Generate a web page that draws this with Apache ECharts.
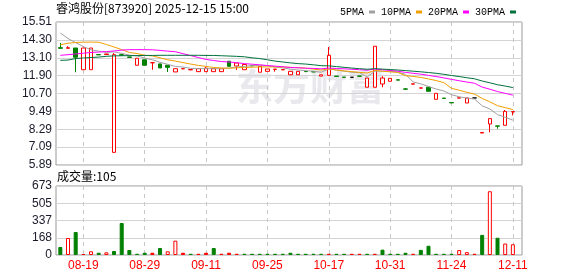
<!DOCTYPE html>
<html><head><meta charset="utf-8">
<script src="https://cdn.jsdelivr.net/npm/echarts@6/dist/echarts.min.js"></script>
<style>html,body{margin:0;padding:0;background:#fff}#c{width:578px;height:276px}</style>
</head><body><div id="c"></div>
<script>
const stockName = '睿鸿股份[873920]';
const stamp = '2025-12-15 15:00';
const dateLabels = ['08-19','08-29','09-11','09-25','10-17','10-31','11-24','12-11'];
const dateLabelFirst = 3, dateLabelStep = 8;
const priceTicks = ['5.89','7.09','8.29','9.49','10.70','11.90','13.10','14.30','15.51'];
const volTicks = ['0','168','337','505','673'];
const maNames = ['5PMA','10PMA','20PMA','30PMA'];

const opens = [13.78,13.74,13.76,12.30,12.30,13.32,13.32,6.74,13.31,13.16,
12.60,12.97,12.77,12.69,12.60,12.15,12.36,12.29,12.17,12.17,
12.17,12.17,12.87,12.55,12.30,12.58,12.13,12.19,12.32,12.29,
11.96,11.96,12.18,12.17,11.87,11.92,11.87,11.80,11.79,11.88,
11.12,11.12,11.34,11.52,11.62,11.01,11.33,11.06,11.12,10.31,
10.39,10.09,10.39,10.06,10.40,8.04,8.65,8.52,8.56,9.46];
const closes = [13.74,13.78,13.14,13.76,13.76,13.30,13.36,13.31,13.28,13.13,
13.07,12.60,12.77,12.42,12.46,12.37,12.37,12.31,12.37,12.41,
12.37,12.37,12.53,12.75,12.65,12.56,12.53,12.35,12.34,12.31,
12.19,12.19,12.17,12.15,11.96,13.27,11.85,11.79,11.79,11.86,
11.74,13.88,11.74,11.72,11.60,10.99,11.35,11.08,10.85,10.71,
10.37,10.07,10.41,10.40,10.40,8.08,9.01,8.50,9.50,9.48];
const lows = [13.74,13.74,12.13,12.30,12.30,13.30,13.32,6.74,13.28,13.13,
12.60,12.60,12.30,12.42,12.15,12.15,12.36,12.29,12.17,12.17,
12.17,12.17,12.53,12.28,12.30,12.56,12.13,12.19,12.17,12.29,
11.96,11.96,12.17,12.15,11.87,11.92,11.85,11.79,11.79,11.86,
11.12,11.12,11.12,11.52,11.60,10.99,11.33,11.06,10.85,10.31,
10.37,10.07,10.39,10.06,10.40,8.04,8.09,8.33,8.56,9.23];
const highs = [14.10,13.88,13.76,13.76,13.76,13.32,13.36,13.42,13.36,13.16,
13.07,12.97,12.77,12.69,12.60,12.37,12.37,12.31,12.37,12.47,
12.37,12.37,12.87,12.75,12.65,12.58,12.53,12.35,12.34,12.31,
12.19,12.19,12.18,12.17,11.96,13.83,11.87,11.80,11.79,11.88,
11.74,13.88,11.86,11.72,11.62,11.07,11.35,11.08,11.12,10.71,
10.39,10.09,10.41,10.40,10.40,8.08,9.01,8.52,9.59,9.48];
const volumes = [78,166,224,10,36,22,26,39,312,49,
12,22,22,68,36,140,22,12,12,22,
68,12,22,12,12,12,12,12,12,12,
22,12,12,12,12,12,12,12,12,12,
12,12,52,12,12,22,12,50,90,12,
12,12,48,28,12,196,622,168,112,105];
// 1 = up (hollow red), 0 = flat/up close (filled red), -1 = down (green)
const volDir = [-1,1,-1,0,1,-1,1,-1,-1,-1,
-1,-1,0,-1,1,1,0,-1,0,0,
-1,0,0,0,-1,-1,-1,-1,-1,-1,
-1,-1,-1,-1,-1,0,-1,-1,0,0,
-1,0,-1,-1,-1,-1,0,-1,-1,-1,
-1,-1,1,1,0,-1,1,-1,1,1];
const ma5 = [14.77,14.40,14.12,13.86,13.64,13.55,13.46,13.50,13.40,13.28,
13.23,13.08,12.97,12.80,12.66,12.52,12.48,12.39,12.38,12.37,
12.37,12.37,12.41,12.49,12.53,12.57,12.60,12.57,12.49,12.42,
12.34,12.28,12.24,12.20,12.13,12.35,12.28,12.20,12.13,12.11,
11.81,12.21,12.20,12.19,12.14,11.99,11.48,11.35,11.17,11.00,
10.87,10.62,10.48,10.39,10.33,9.87,9.66,9.28,9.10,8.91];
const ma10 = [13.98,14.08,14.13,14.15,14.16,14.15,14.00,13.83,13.65,13.46,
13.39,13.27,13.23,13.10,12.97,12.88,12.78,12.68,12.59,12.52,
12.45,12.42,12.40,12.43,12.45,12.47,12.49,12.49,12.49,12.48,
12.46,12.44,12.40,12.34,12.28,12.35,12.28,12.22,12.17,12.12,
12.08,12.25,12.20,12.16,12.12,11.90,11.85,11.78,11.68,11.57,
11.43,11.05,10.92,10.78,10.66,10.37,10.14,9.88,9.75,9.62];
const ma20 = [13.27,13.31,13.36,13.41,13.46,13.49,13.52,13.56,13.62,13.65,
13.65,13.65,13.64,13.60,13.55,13.51,13.38,13.25,13.12,12.99,
12.92,12.85,12.82,12.77,12.71,12.67,12.63,12.58,12.54,12.50,
12.45,12.43,12.40,12.39,12.36,12.41,12.38,12.36,12.33,12.30,
12.27,12.34,12.30,12.25,12.20,12.12,12.06,12.00,11.92,11.84,
11.75,11.65,11.56,11.47,11.39,11.13,10.99,10.83,10.71,10.59];
const ma30 = [12.93,12.95,13.05,13.09,13.12,13.15,13.20,13.23,13.24,13.25,
13.25,13.26,13.26,13.27,13.27,13.27,13.27,13.27,13.27,13.26,
13.26,13.24,13.22,13.20,13.17,13.10,13.05,12.97,12.88,12.82,
12.76,12.71,12.68,12.63,12.57,12.56,12.51,12.46,12.41,12.37,
12.33,12.37,12.34,12.31,12.28,12.24,12.20,12.16,12.11,12.06,
11.99,11.91,11.84,11.76,11.69,11.54,11.42,11.29,11.20,11.10];

const RED = '#ff0000', GREEN = '#008000';
const maColors = ['#a0a0a0', '#f0a000', '#ff00ff', '#00703c'];
const N = closes.length;
const cats = closes.map((_, i) => String(i));
const isDateIdx = i => i >= dateLabelFirst && (i - dateLabelFirst) % dateLabelStep === 0;
const priceMin = parseFloat(priceTicks[0]);
const priceMax = parseFloat(priceTicks[priceTicks.length - 1]);
const priceInterval = +((priceMax - priceMin) / (priceTicks.length - 1)).toFixed(6);
const volMax = parseFloat(volTicks[volTicks.length - 1]);
const volInterval = volMax / (volTicks.length - 1);

const candleData = closes.map((c, i) => {
  const item = { value: [opens[i], c, lows[i], highs[i]] };
  if (opens[i] === c && i > 0 && closes[i - 1] === c) {
    item.itemStyle = { color: '#000', color0: '#000', borderColor: '#000', borderColor0: '#000' };
  }
  return item;
});
const volData = volumes.map((v, i) => {
  const d = volDir[i];
  const col = d < 0 ? GREEN : RED;
  return { value: v, itemStyle: { color: d === 1 ? '#fff' : col, borderColor: col, borderWidth: 1 } };
});

const labelFont = { fontFamily: 'Liberation Sans', fontSize: 12, color: '#1a1a2a' };
const frame = { show: true, borderColor: '#999', borderWidth: 1 };
const hLine = { show: true, lineStyle: { color: '#d4d4d4', width: 1, type: 'solid' } };
const vLine = { show: true, alignWithLabel: true, interval: (i) => isDateIdx(i), lineStyle: { color: '#c8c8c8', width: 1, type: [4, 4] } };

const chart = echarts.init(document.getElementById('c'), null, { renderer: 'canvas' });
chart.setOption({
  animation: false,
  backgroundColor: '#fff',
  grid: [
    Object.assign({ left: 56, top: 22, width: 466, height: 143 }, frame),
    { left: 56.5, top: 22, width: 460.2, height: 143 },
    Object.assign({ left: 56, top: 186, width: 466, height: 69 }, frame),
    { left: 56.5, top: 186, width: 460.2, height: 69 }
  ],
  xAxis: [
    { gridIndex: 0, type: 'value', min: 0, max: 1, show: false },
    { gridIndex: 1, type: 'category', data: cats, boundaryGap: true,
      axisLine: { show: false }, axisTick: { show: false }, axisLabel: { show: false }, splitLine: vLine },
    { gridIndex: 2, type: 'value', min: 0, max: 1, show: false },
    { gridIndex: 3, type: 'category', data: cats, boundaryGap: true,
      axisLine: { show: false }, axisTick: { show: false }, splitLine: vLine,
      axisLabel: { show: true, interval: (i) => isDateIdx(i), margin: 5,
        formatter: (v, i) => dateLabels[(i - dateLabelFirst) / dateLabelStep] || '',
        fontFamily: 'Liberation Sans', fontSize: 12, color: RED } }
  ],
  yAxis: [
    { gridIndex: 0, type: 'value', min: priceMin, max: priceMax, interval: priceInterval,
      axisLine: { show: false }, axisTick: { show: false }, splitLine: hLine,
      axisLabel: Object.assign({ margin: 4,
        formatter: (v) => priceTicks[Math.round((v - priceMin) / priceInterval)] }, labelFont) },
    { gridIndex: 1, type: 'value', min: priceMin, max: priceMax, show: false },
    { gridIndex: 2, type: 'value', min: 0, max: volMax, interval: volInterval,
      axisLine: { show: false }, axisTick: { show: false }, splitLine: hLine,
      axisLabel: Object.assign({ margin: 4,
        formatter: (v) => volTicks[Math.round(v / volInterval)] }, labelFont) },
    { gridIndex: 3, type: 'value', min: 0, max: volMax, show: false }
  ],
  legend: {
    data: maNames, left: 335, top: 2, align: 'right', icon: 'rect',
    itemWidth: 6, itemHeight: 3, itemGap: 6, selectedMode: false,
    textStyle: { fontFamily: 'Liberation Mono', fontSize: 10, color: '#000' }
  },
  graphic: [
    { type: 'text', left: 236, top: 68, z: -10, silent: true,
      style: { text: '东方财富', font: 'bold 37px "Noto Sans CJK SC"', fill: '#e9e9ed' } },
    { type: 'text', left: 56, top: 2,
      style: { text: stockName + ' ' + stamp, font: '12px "Noto Sans CJK SC"', fill: '#000' } },
    { type: 'text', left: 57, top: 170,
      style: { text: '成交量:' + volumes[N - 1], font: '12px "Noto Sans CJK SC"', fill: '#000' } }
  ],
  series: [
    { type: 'candlestick', xAxisIndex: 1, yAxisIndex: 1, data: candleData, barWidth: 4, z: 3,
      itemStyle: { color: '#fff', color0: GREEN, borderColor: RED, borderColor0: GREEN, borderWidth: 1 } },
    { name: maNames[0], type: 'line', xAxisIndex: 1, yAxisIndex: 1, data: ma5, color: maColors[0], symbol: 'none', lineStyle: { width: 1 }, z: 4 },
    { name: maNames[1], type: 'line', xAxisIndex: 1, yAxisIndex: 1, data: ma10, color: maColors[1], symbol: 'none', lineStyle: { width: 1 }, z: 4 },
    { name: maNames[2], type: 'line', xAxisIndex: 1, yAxisIndex: 1, data: ma20, color: maColors[2], symbol: 'none', lineStyle: { width: 1 }, z: 4 },
    { name: maNames[3], type: 'line', xAxisIndex: 1, yAxisIndex: 1, data: ma30, color: maColors[3], symbol: 'none', lineStyle: { width: 1 }, z: 4 },
    { type: 'bar', xAxisIndex: 3, yAxisIndex: 3, data: volData, barWidth: 4 }
  ]
});
</script></body></html>
